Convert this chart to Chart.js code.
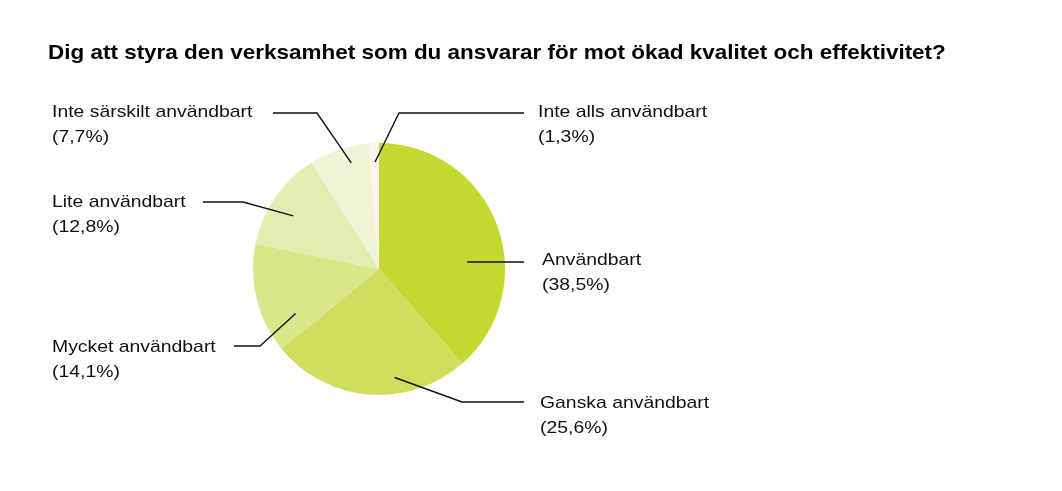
<!DOCTYPE html>
<html><head><meta charset="utf-8">
<script src="https://cdn.jsdelivr.net/npm/chart.js@4/dist/chart.umd.min.js"></script>
<style>html,body{margin:0;padding:0;background:#fff;}#wrap{width:1062px;height:491px;}</style>
</head><body><div id="wrap"><canvas id="c" width="1062" height="491"></canvas></div>
<script>
const title = 'Dig att styra den verksamhet som du ansvarar för mot ökad kvalitet och effektivitet?';
const categories = ['Användbart','Ganska användbart','Mycket användbart','Lite användbart','Inte särskilt användbart','Inte alls användbart'];
const values = [38.5, 25.6, 14.1, 12.8, 7.7, 1.3];
const valueLabels = ['(38,5%)','(25,6%)','(14,1%)','(12,8%)','(7,7%)','(1,3%)'];
const colors = ['#c3d930','#cedf5e','#d9e68a','#e3edb1','#eef4d6','#f6f9ea'];
// label layout: text x, baseline y, line y, elbow x, line end x, anchor fraction along slice, anchor radius fraction
const labelLayout = [
  {tx:542, ty:265, ly:262, ex:468, lx:524, af:0.613, rf:0.71},
  {tx:540, ty:408, ly:402, ex:462, lx:524, af:0.36, rf:0.87},
  {tx:52, ty:352, ly:346, ex:260, lx:234, af:0.22, rf:0.75},
  {tx:52, ty:207, ly:202, ex:243, lx:203, af:0.44, rf:0.80},
  {tx:52, ty:117, ly:113, ex:317, lx:273, af:0.64, rf:0.87},
  {tx:538, ty:117, ly:113, ex:399, lx:524, af:0.55, rf:0.85}
];
const FONT = '"Liberation Sans", Arial, sans-serif';
const TITLE_STRETCH = 1.07;
const LABEL_STRETCH = 1.14;

function stretchedText(ctx, text, x, y, sx){
  ctx.save();
  ctx.translate(x, y);
  ctx.scale(sx, 1);
  ctx.fillText(text, 0, 0);
  ctx.restore();
}

const labelPlugin = {
  id:'labels',
  afterDraw(chart){
    const ctx = chart.ctx;
    ctx.save();
    ctx.fillStyle = '#000';
    ctx.font = 'bold 21px ' + FONT;
    ctx.textBaseline = 'alphabetic';
    ctx.textAlign = 'left';
    stretchedText(ctx, title, 48, 59, TITLE_STRETCH);
    const meta = chart.getDatasetMeta(0);
    meta.data.forEach((arc, i) => {
      const L = labelLayout[i];
      const p = arc.getProps(['x','y','startAngle','endAngle','outerRadius'], true);
      const a = p.startAngle + (p.endAngle - p.startAngle) * L.af;
      const r = p.outerRadius * L.rf;
      const ax = p.x + Math.cos(a) * r, ay = p.y + Math.sin(a) * r;
      ctx.strokeStyle = '#111';
      ctx.lineWidth = 1.4;
      ctx.beginPath();
      ctx.moveTo(ax, ay);
      ctx.lineTo(L.ex, L.ly);
      ctx.lineTo(L.lx, L.ly);
      ctx.stroke();
      ctx.font = '17px ' + FONT;
      ctx.fillStyle = '#111';
      stretchedText(ctx, categories[i], L.tx, L.ty, LABEL_STRETCH);
      stretchedText(ctx, valueLabels[i], L.tx, L.ty + 25, LABEL_STRETCH);
    });
    ctx.restore();
  }
};

new Chart(document.getElementById('c'), {
  type:'pie',
  data:{labels:categories, datasets:[{data:values, backgroundColor:colors, borderWidth:0}]},
  options:{
    responsive:false, animation:false,
    layout:{padding:{left:253, right:557, top:143, bottom:96}},
    plugins:{legend:{display:false}, tooltip:{enabled:false}, title:{display:false}}
  },
  plugins:[labelPlugin]
});
</script></body></html>
